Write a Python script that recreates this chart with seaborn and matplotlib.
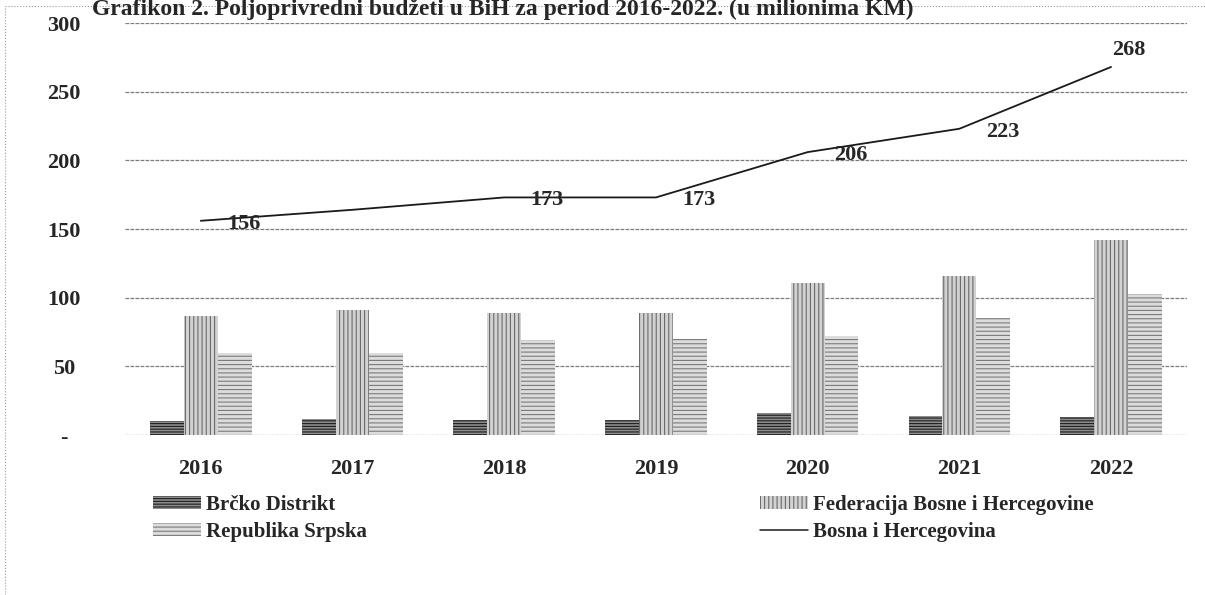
import numpy as np
import pandas as pd
import seaborn as sns
import matplotlib
matplotlib.use('Agg')
from matplotlib import pyplot as plt
import matplotlib.patches as mpatches
from matplotlib.lines import Line2D

# values in millions KM
years = ['2016', '2017', '2018', '2019', '2020', '2021', '2022']
brcko = [10, 12, 11, 11, 16, 14, 13]
fbih = [87, 91, 89, 89, 111, 116, 142]
rs = [60, 60, 69, 70, 72, 85, 103]
bih = [156, 164, 173, 173, 206, 223, 268]
# the 2017 point carries no label in the original
bih_labels = ['156', '', '173', '173', '206', '223', '268']
y_ticks = [0, 50, 100, 150, 200, 250, 300]
y_tick_labels = ['-', '50', '100', '150', '200', '250', '300']

series_names = ['Brčko Distrikt', 'Federacija Bosne i Hercegovine', 'Republika Srpska']
line_name = 'Bosna i Hercegovina'
title = 'Grafikon 2. Poljoprivredni budžeti u BiH za period 2016-2022. (u milionima KM)'

df = pd.DataFrame({
    'godina': years * 3,
    'entitet': [series_names[0]] * 7 + [series_names[1]] * 7 + [series_names[2]] * 7,
    'iznos': brcko + fbih + rs,
})

sns.set_style('white')
plt.rcParams['font.family'] = ['Liberation Serif', 'DejaVu Serif']
plt.rcParams['font.weight'] = 'bold'
plt.rcParams['hatch.linewidth'] = 0.8

# bar looks: face, hatch colour, hatch
looks = [('#8c8c8c', '#1e1e1e', '------'),
         ('#d2d2d2', '#6a6a6a', '||||'),
         ('#dcdcdc', '#7a7a7a', '----')]

fig = plt.figure(figsize=(12.05, 5.95), dpi=100)
ax = fig.add_axes([0.1037, 0.2689, 0.8813, 0.6924])

sns.barplot(data=df, x='godina', y='iznos', hue='entitet', hue_order=series_names,
            order=years, width=0.67, gap=0, legend=False, ax=ax)

for cont, (fc, hc, ht) in zip(ax.containers, looks):
    for bar in cont:
        bar.set_facecolor(fc)
        bar.set_edgecolor(hc)
        bar.set_hatch(ht)
        bar.set_linewidth(0)

xs = np.arange(len(years))
sns.lineplot(x=xs, y=bih, color='#1a1a1a', linewidth=1.3, ax=ax, zorder=4)

for i, (v, txt) in enumerate(zip(bih, bih_labels)):
    if not txt:
        continue
    if i == len(bih) - 1:
        off = (13, 12)
    else:
        off = (31, -2)
    ax.annotate(txt, (i, v), xytext=off, textcoords='offset points',
                ha='center', va='center', fontsize=16, fontweight='bold', zorder=5)

ax.set_ylim(0, 300)
ax.set_xlim(-0.5, 6.5)
ax.set_yticks(y_ticks)
ax.set_yticklabels(y_tick_labels, ha='center')
ax.tick_params(axis='y', length=0, pad=44, labelsize=16)
ax.tick_params(axis='x', length=0, pad=17, labelsize=16)
for lab in ax.get_xticklabels() + ax.get_yticklabels():
    lab.set_fontweight('bold')
ax.set_xlabel('')
ax.set_ylabel('')
ax.grid(axis='y', color='#7d7d7d', linewidth=0.9, linestyle=(0, (3, 1)))
ax.set_axisbelow(True)
sns.despine(ax=ax, left=True, bottom=True)

# legends below the plot
h = [mpatches.Patch(facecolor=fc, edgecolor=hc, hatch=ht, linewidth=0) for fc, hc, ht in looks]
hl = Line2D([], [], color='#1a1a1a', linewidth=1.1)
kw = dict(frameon=False, handlelength=2.3, handleheight=0.55, handletextpad=0.25,
          labelspacing=0.32, borderpad=0, borderaxespad=0, loc='upper left',
          prop={'family': 'Liberation Serif', 'weight': 'bold', 'size': 15})
leg1 = fig.legend([h[0], h[2]], [series_names[0], series_names[2]],
                  bbox_to_anchor=(153 / 1205, 1 - 495 / 595), **kw)
leg2 = fig.legend([h[1], hl], [series_names[1], line_name],
                  bbox_to_anchor=(760 / 1205, 1 - 495 / 595), **kw)

# title at the very top of the scan
fig.text(92 / 1205, 1 - 15 / 595, title, ha='left', va='baseline',
         fontsize=17, fontweight='bold')

# dotted page frame of the scan
fig.add_artist(Line2D([0.004, 0.004], [0.0, 0.99], transform=fig.transFigure,
                      color='#9a9a9a', linewidth=0.8, linestyle=':'))
fig.add_artist(Line2D([0.004, 1.0], [0.99, 0.99], transform=fig.transFigure,
                      color='#9a9a9a', linewidth=0.8, linestyle=':'))

fig.savefig('out.png', dpi=100)
plt.close()
